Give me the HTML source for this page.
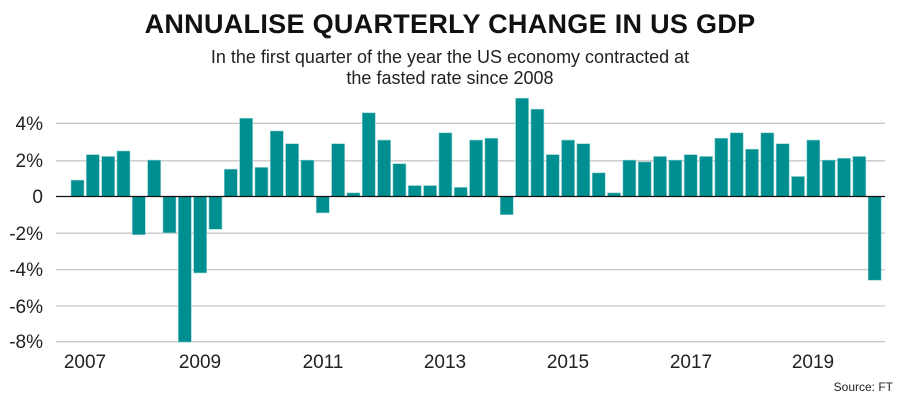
<!DOCTYPE html>
<html><head><meta charset="utf-8"><style>
body{margin:0;background:#fff;}
svg{display:block;font-family:"Liberation Sans",sans-serif;}
</style></head><body>
<svg width="900" height="401" viewBox="0 0 900 401">
<text x="450" y="33" text-anchor="middle" font-size="27" font-weight="bold" fill="#111" style="letter-spacing:0.3px">ANNUALISE QUARTERLY CHANGE IN US GDP</text>
<text x="450" y="63" text-anchor="middle" font-size="18" fill="#222">In the first quarter of the year the US economy contracted at</text>
<text x="450" y="84" text-anchor="middle" font-size="18" fill="#222">the fasted rate since 2008</text>
<g stroke="#c8c8c8" stroke-width="1.3">
<line x1="56" x2="885" y1="123.3" y2="123.3"/>
<line x1="56" x2="885" y1="160.8" y2="160.8"/>
<line x1="56" x2="885" y1="233.2" y2="233.2"/>
<line x1="56" x2="885" y1="269.6" y2="269.6"/>
<line x1="56" x2="885" y1="306" y2="306"/>
<line x1="56" x2="885" y1="341.7" y2="341.7"/>
</g>
<g font-size="19" fill="#222" text-anchor="end">
<text x="43" y="130">4%</text>
<text x="43" y="167">2%</text>
<text x="43" y="203">0</text>
<text x="43" y="240">-2%</text>
<text x="43" y="276">-4%</text>
<text x="43" y="313">-6%</text>
<text x="43" y="348">-8%</text>
</g>
<g fill="#008f91" stroke="#8fd0d0" stroke-width="0.6">
<rect x="71.00" y="180.12" width="13" height="16.38"/>
<rect x="86.33" y="154.64" width="13" height="41.86"/>
<rect x="101.66" y="156.46" width="13" height="40.04"/>
<rect x="116.99" y="151.0" width="13" height="45.5"/>
<rect x="132.32" y="196.5" width="13" height="38.22"/>
<rect x="147.65" y="160.1" width="13" height="36.4"/>
<rect x="162.98" y="196.5" width="13" height="36.4"/>
<rect x="178.31" y="196.5" width="13" height="145.6"/>
<rect x="193.64" y="196.5" width="13" height="76.44"/>
<rect x="208.97" y="196.5" width="13" height="32.76"/>
<rect x="224.30" y="169.2" width="13" height="27.3"/>
<rect x="239.63" y="118.24" width="13" height="78.26"/>
<rect x="254.96" y="167.38" width="13" height="29.12"/>
<rect x="270.29" y="130.98" width="13" height="65.52"/>
<rect x="285.62" y="143.72" width="13" height="52.78"/>
<rect x="300.95" y="160.1" width="13" height="36.4"/>
<rect x="316.28" y="196.5" width="13" height="16.38"/>
<rect x="331.61" y="143.72" width="13" height="52.78"/>
<rect x="346.94" y="192.86" width="13" height="3.64"/>
<rect x="362.27" y="112.78" width="13" height="83.72"/>
<rect x="377.60" y="140.08" width="13" height="56.42"/>
<rect x="392.93" y="163.74" width="13" height="32.76"/>
<rect x="408.26" y="185.58" width="13" height="10.92"/>
<rect x="423.59" y="185.58" width="13" height="10.92"/>
<rect x="438.92" y="132.8" width="13" height="63.7"/>
<rect x="454.25" y="187.4" width="13" height="9.1"/>
<rect x="469.58" y="140.08" width="13" height="56.42"/>
<rect x="484.91" y="138.26" width="13" height="58.24"/>
<rect x="500.24" y="196.5" width="13" height="18.2"/>
<rect x="515.57" y="98.22" width="13" height="98.28"/>
<rect x="530.90" y="109.14" width="13" height="87.36"/>
<rect x="546.23" y="154.64" width="13" height="41.86"/>
<rect x="561.56" y="140.08" width="13" height="56.42"/>
<rect x="576.89" y="143.72" width="13" height="52.78"/>
<rect x="592.22" y="172.84" width="13" height="23.66"/>
<rect x="607.55" y="192.86" width="13" height="3.64"/>
<rect x="622.88" y="160.1" width="13" height="36.4"/>
<rect x="638.21" y="161.92" width="13" height="34.58"/>
<rect x="653.54" y="156.46" width="13" height="40.04"/>
<rect x="668.87" y="160.1" width="13" height="36.4"/>
<rect x="684.20" y="154.64" width="13" height="41.86"/>
<rect x="699.53" y="156.46" width="13" height="40.04"/>
<rect x="714.86" y="138.26" width="13" height="58.24"/>
<rect x="730.19" y="132.8" width="13" height="63.7"/>
<rect x="745.52" y="149.18" width="13" height="47.32"/>
<rect x="760.85" y="132.8" width="13" height="63.7"/>
<rect x="776.18" y="143.72" width="13" height="52.78"/>
<rect x="791.51" y="176.48" width="13" height="20.02"/>
<rect x="806.84" y="140.08" width="13" height="56.42"/>
<rect x="822.17" y="160.1" width="13" height="36.4"/>
<rect x="837.50" y="158.28" width="13" height="38.22"/>
<rect x="852.83" y="156.46" width="13" height="40.04"/>
<rect x="868.16" y="196.5" width="13" height="83.72"/>
</g>
<line x1="56" x2="885" y1="196.5" y2="196.5" stroke="#111" stroke-width="1.3"/>
<g font-size="19" fill="#222" text-anchor="middle">
<text x="85" y="368">2007</text>
<text x="200" y="368">2009</text>
<text x="323" y="368">2011</text>
<text x="445" y="368">2013</text>
<text x="568" y="368">2015</text>
<text x="691" y="368">2017</text>
<text x="813" y="368">2019</text>
</g>
<text x="893" y="391" text-anchor="end" font-size="12" fill="#222">Source: FT</text>
</svg>
</body></html>
